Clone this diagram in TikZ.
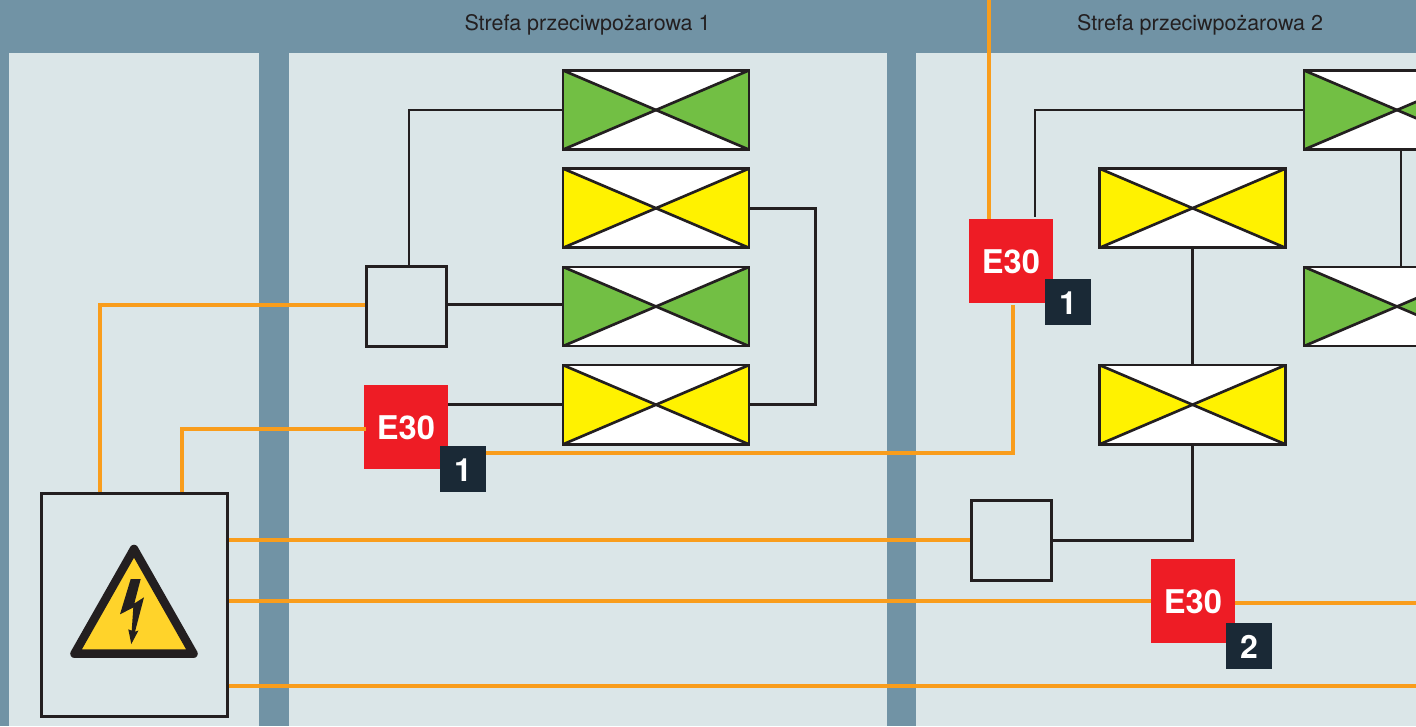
\documentclass[tikz,border=0pt]{standalone}
\usepackage{fontspec}
\setmainfont{TeX Gyre Heros}
\usetikzlibrary{positioning,calc}
\definecolor{zonebar}{HTML}{7193A5}
\definecolor{zonefill}{HTML}{DBE6E8}
\definecolor{linedark}{HTML}{231F20}
\definecolor{cableorange}{HTML}{F99D1C}
\definecolor{e30red}{HTML}{EE1C25}
\definecolor{badgedark}{HTML}{1A2936}
\definecolor{dampergreen}{HTML}{72BF44}
\definecolor{damperyellow}{HTML}{FFF200}
\definecolor{signyellow}{HTML}{FFD32A}
\tikzset{
	wire/.style={
		draw=linedark,
		line width=2pt
	},
	cable/.style={
		draw=cableorange,
		line width=3pt
	},
	zone title/.style={
		text=linedark,
		font=\fontsize{16.1}{19}\selectfont,
		inner sep=0pt
	},
	damper/.style={
		rectangle,
		wire,
		fill=white,
		inner sep=0pt,
		minimum width=139.4pt,
		minimum height=59.4pt,
		path picture={
			\fill[#1] (path picture bounding box.north west) -- (path picture bounding box.center) -- (path picture bounding box.south west) -- cycle;
			\fill[#1] (path picture bounding box.north east) -- (path picture bounding box.center) -- (path picture bounding box.south east) -- cycle;
			\draw[wire] (path picture bounding box.north west) -- (path picture bounding box.south east);
			\draw[wire] (path picture bounding box.south west) -- (path picture bounding box.north east);
		}
	},
	junction/.style={
		rectangle,
		wire,
		fill=zonefill,
		minimum size=59.8pt,
		inner sep=0pt
	},
	panel/.style={
		rectangle,
		wire,
		fill=zonefill,
		minimum width=139.3pt,
		minimum height=167.1pt,
		inner sep=0pt
	},
	e30/.style={
		rectangle,
		fill=e30red,
		text=white,
		font=\fontsize{24.5}{28}\selectfont\bfseries,
		text height=19.1pt,
		text depth=0pt,
		minimum size=63pt,
		inner sep=0pt
	},
	badge/.style={
		rectangle,
		fill=badgedark,
		text=white,
		font=\fontsize{24}{28}\selectfont\bfseries,
		text height=18pt,
		text depth=0pt,
		minimum size=34.5pt,
		inner sep=0pt
	}
}
\begin{document}
\begin{tikzpicture}[x=0.75pt,y=-0.75pt]
	\clip (0,0) rectangle (1416,726);
	% zones
	\fill[zonebar] (0,0) rectangle (1416,726);
	\fill[zonefill] (9,53) rectangle (259,726);
	\fill[zonefill] (289,53) rectangle (887,726);
	\fill[zonefill] (916,53) rectangle (1416,726);
	\node[zone title] (titleA) at (587.5,24.5) {Strefa przeciwpożarowa 1};
	\node[zone title] (titleB) at (1200,24.5) {Strefa przeciwpożarowa 2};
	% zone 1
	\node[damper=dampergreen] (damperA) at (656,110) {};
	\node[damper=damperyellow] (damperB) at (656,208.2) {};
	\node[damper=dampergreen] (damperC) at (656,306.5) {};
	\node[damper=damperyellow] (damperD) at (656,404.7) {};
	\node[junction] (boxA) at (406.5,306.5) {};
	\node[e30] (fireA) at (406,427) {E30};
	\node[badge] (badgeA) at (463,469) {1};
	\node[panel] (power) at (134.5,605) {};
	% zone 2
	\node[damper=dampergreen] (damperE) at (1397,110) {};
	\node[damper=damperyellow] (damperF) at (1192.5,208.2) {};
	\node[damper=dampergreen] (damperG) at (1397,306.5) {};
	\node[damper=damperyellow] (damperH) at (1192.5,404.7) {};
	\node[junction] (boxB) at (1011.5,540.5) {};
	\node[e30] (fireB) at (1011,261) {E30};
	\node[badge] (badgeB) at (1068,302) {1};
	\node[e30] (fireC) at (1193,601) {E30};
	\node[badge] (badgeC) at (1249,646) {2};
	% warning sign
	\filldraw[fill=signyellow,draw=linedark,line width=6.4pt,line join=round] (134,549) -- (74.5,653.7) -- (193.5,653.7) -- cycle;
	\fill[linedark] (130.7,579) -- (140.7,579) -- (134.3,603.5) -- (144,597.3) -- (135,631.7) -- (138.5,630.5) -- (131.3,644) -- (128.3,629.3) -- (131.7,630.7) -- (133.3,607.5) -- (120,614.3) -- cycle;
	% wires
	\draw[wire] (damperA.west) -| ([xshift=1.9pt]boxA.north);
	\draw[wire] ([yshift=1.5pt]boxA.east) -- ([yshift=1.5pt]boxA.east -| damperC.west);
	\draw[wire] (damperB.east) -- ++(65,0) |- (damperD.east);
	\draw[wire] (fireA.east |- damperD.west) -- (damperD.west);
	\draw[wire] (damperE.west) -| ([xshift=18pt,yshift=1.5pt]fireB.north);
	\draw[wire] ([xshift=3pt]damperE.south) -- ([xshift=3pt]damperG.north);
	\draw[wire] (damperF.south) -- (damperH.north);
	\draw[wire] (damperH.south) |- (boxB.east);
	% cables
	\draw[cable] ([xshift=-26pt]power.north) |- ([yshift=1pt]boxA.west);
	\draw[cable] ([xshift=35.5pt]power.north) |- ([xshift=1.5pt,yshift=-1.5pt]fireA.west);
	\draw[cable] (badgeA.east |- 486,453) -| ([xshift=1.5pt,yshift=-1pt]fireB.south);
	\draw[cable] (988.5,219) -- (988.5,0);
	\draw[cable] (power.east |- 228,539.5) -- (boxB.west |- 228,539.5);
	\draw[cable] (power.east |- 228,601) -- (fireC.west);
	\draw[cable] (fireC.east |- 228,603) -- (1416,603);
	\draw[cable] (power.east |- 228,686) -- (1416,686);
\end{tikzpicture}
\end{document}
